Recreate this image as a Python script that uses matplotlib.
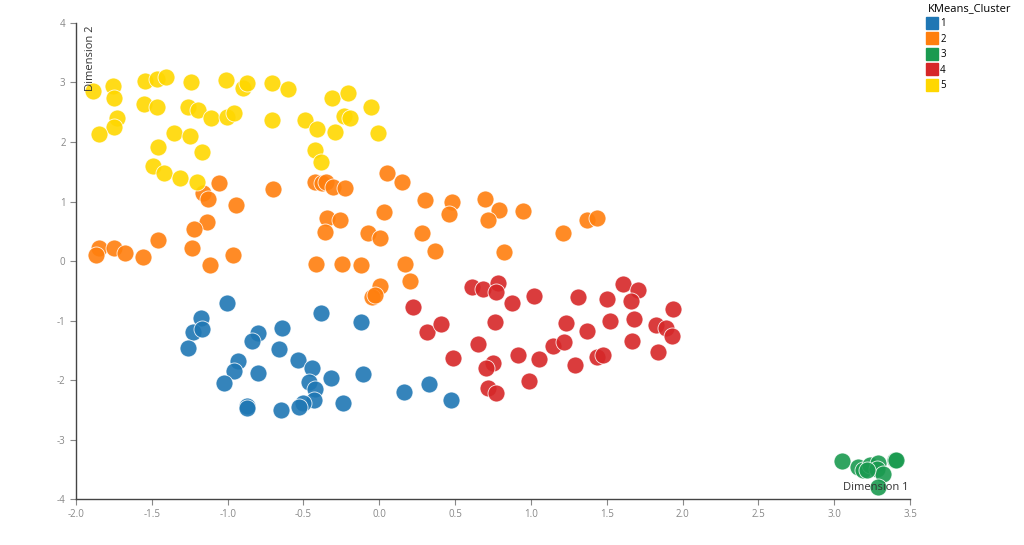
import matplotlib
matplotlib.use("Agg")
from matplotlib import pyplot
from matplotlib.lines import Line2D

pyplot.rcParams['font.family'] = ['Open Sans', 'DejaVu Sans']

# DATA
clusters = ['1', '2', '3', '4', '5']

c1_x = [-1.002, -1.177, -1.23, -1.171, -1.263, -0.801, -0.841, -0.639, -0.661, -0.386,
        -0.122, -0.929, -0.958, -0.801, -1.024, -0.538, -0.445, -0.461, -0.421, -0.43,
        -0.501, -0.527, -0.32, -0.105, -0.237, -0.874, -0.87, -0.648, 0.166, 0.331, 0.474]
c1_y = [-0.70, -0.963, -1.188, -1.148, -1.467, -1.215, -1.34, -1.131, -1.474, -0.879,
        -1.03, -1.676, -1.849, -1.888, -2.045, -1.664, -1.793, -2.029, -2.156, -2.336,
        -2.381, -2.449, -1.966, -1.899, -2.381, -2.432, -2.476, -2.504, -2.196, -2.067, -2.336]

c2_x = [-1.057, -1.16, -1.127, -0.703, -0.945, -0.423, -0.379, -0.353, -0.303, -0.226,
        0.049, 0.148, -1.134, -1.222, -1.235, -1.457, -1.846, -1.749, -1.677, -1.87,
        -1.556, -0.962, -0.346, -0.259, -0.357, -0.072, 0.005, 0.034, -1.116, -0.417,
        -0.247, -0.122, 0.17, 0.203, 0.005, -0.05, -0.028, 0.302, 0.478, 0.462,
        0.698, 0.792, 0.951, 0.72, 0.28, 0.368, 0.823, 1.214, 1.373, 1.435]
c2_y = [1.306, 1.138, 1.037, 1.21, 0.941, 1.333, 1.316, 1.333, 1.249, 1.222,
        1.484, 1.322, 0.66, 0.532, 0.213, 0.353, 0.224, 0.213, 0.13, 0.10,
        0.072, 0.10, 0.718, 0.689, 0.493, 0.476, 0.381, 0.829, -0.067, -0.05,
        -0.056, -0.067, -0.05, -0.331, -0.42, -0.6, -0.57, 1.025, 0.997, 0.79,
        1.037, 0.857, 0.84, 0.689, 0.465, 0.168, 0.156, 0.465, 0.689, 0.718]

c3_x = [3.051, 3.16, 3.193, 3.237, 3.292, 3.282, 3.321, 3.286, 3.402, 3.41, 3.216]
c3_y = [-3.356, -3.457, -3.513, -3.429, -3.40, -3.501, -3.585, -3.793, -3.345, -3.35, -3.513]

c4_x = [0.221, 0.317, 0.408, 0.485, 0.612, 0.687, 0.782, 0.768, 0.876, 1.023,
        0.764, 0.654, 0.749, 0.703, 0.918, 1.054, 0.72, 0.77, 0.988, 1.144,
        1.219, 1.234, 1.309, 1.368, 1.29, 1.435, 1.478, 1.505, 1.606, 1.709,
        1.661, 1.52, 1.683, 1.668, 1.826, 1.89, 1.933, 1.936, 1.837]
c4_y = [-0.778, -1.188, -1.059, -1.63, -0.432, -0.476, -0.375, -0.526, -0.711, -0.583,
        -1.02, -1.40, -1.709, -1.804, -1.585, -1.647, -2.14, -2.213, -2.022, -1.423,
        -1.361, -1.047, -0.60, -1.182, -1.743, -1.619, -1.58, -0.639, -0.392, -0.487,
        -0.672, -1.008, -0.98, -1.345, -1.076, -1.121, -1.261, -0.807, -1.535]

c5_x = [-1.89, -1.754, -1.749, -1.732, -1.749, -1.846, -1.545, -1.464, -1.408, -1.549,
        -1.468, -1.241, -1.261, -1.197, -1.109, -1.013, -0.896, -0.870, -1.006, -0.956,
        -0.705, -0.600, -0.705, -1.354, -1.248, -1.457, -1.171, -1.49, -1.42, -1.312,
        -1.204, -0.487, -0.408, -0.311, -0.206, -0.290, -0.230, -0.193, -0.054, -0.010,
        -0.423, -0.384]
c5_y = [2.86, 2.94, 2.745, 2.408, 2.257, 2.14, 3.02, 3.06, 3.09, 2.64,
        2.593, 3.013, 2.593, 2.538, 2.398, 3.042, 2.903, 2.987, 2.425, 2.482,
        2.997, 2.886, 2.37, 2.146, 2.10, 1.921, 1.837, 1.597, 1.474, 1.39,
        1.333, 2.37, 2.213, 2.745, 2.818, 2.163, 2.437, 2.398, 2.593, 2.146,
        1.866, 1.669]

xticks = [-2.0, -1.5, -1.0, -0.5, 0.0, 0.5, 1.0, 1.5, 2.0, 2.5, 3.0, 3.5]
yticks = [-4, -3, -2, -1, 0, 1, 2, 3, 4]

# COLOURS
COLS = ['#1f77b4', '#ff7f0e', '#1a9a50', '#d62728', '#ffd700']

# FIGURE
fig = pyplot.figure(figsize=(10.24, 5.45), dpi=100)
ax = fig.add_axes([0.0742, 0.0844, 0.8145, 0.8734])

series = [(c1_x, c1_y), (c2_x, c2_y), (c3_x, c3_y), (c4_x, c4_y), (c5_x, c5_y)]
for (xs, ys), col in zip(series, COLS):
	ax.scatter(xs, ys, s=150, c=col, alpha=0.9, edgecolors='white', linewidths=0.6, zorder=2)

ax.set_xlim(-2.0, 3.5)
ax.set_ylim(-4, 4)
ax.set_xticks(xticks)
ax.set_xticklabels(['%.1f' % t for t in xticks])
ax.set_yticks(yticks)
ax.set_yticklabels([str(t) for t in yticks])

# axes style
for s in ['top', 'right']:
	ax.spines[s].set_visible(False)
for s in ['left', 'bottom']:
	ax.spines[s].set_color('#444444')
	ax.spines[s].set_linewidth(1.0)
ax.tick_params(colors='#888888', labelsize=7, length=4, width=0.8)

# axis titles inside the plot
ax.text(0.018, 0.995, 'Dimension 2', transform=ax.transAxes, rotation=90,
	ha='center', va='top', fontsize=8, color='#333333')
ax.text(0.998, 0.012, 'Dimension 1', transform=ax.transAxes,
	ha='right', va='bottom', fontsize=8, color='#333333')

# LEGEND
handles = [Line2D([0], [0], marker='s', linestyle='none', markersize=8,
	markerfacecolor=c, markeredgecolor=c) for c in COLS]
fig.legend(handles, clusters, loc='upper left', bbox_to_anchor=(0.900, 1.005),
	frameon=False, title='KMeans_Cluster', alignment='left', fontsize=7,
	title_fontsize=8, handletextpad=0.3, labelspacing=0.45, handlelength=1.0,
	borderaxespad=0.2)

fig.savefig('out.png', dpi=100)
